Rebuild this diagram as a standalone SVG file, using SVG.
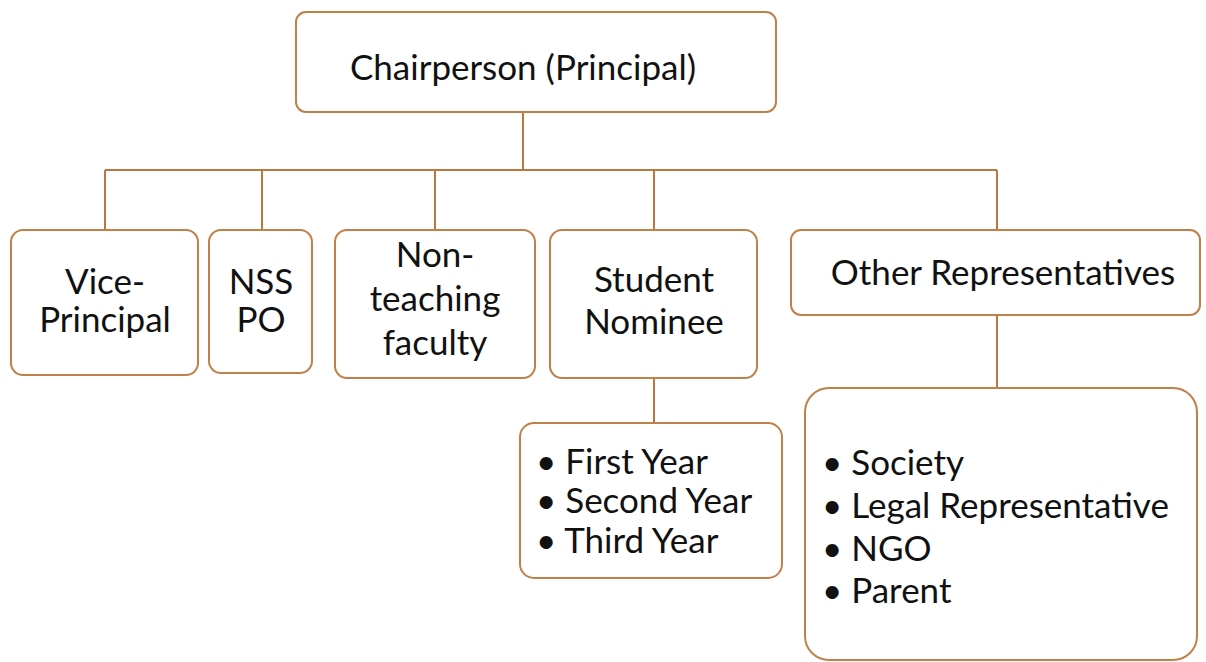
<svg xmlns="http://www.w3.org/2000/svg" width="1206" height="662" viewBox="0 0 1206 662">
<style>
.box{fill:#ffffff;stroke:#C0804A;stroke-width:2}
.ln{fill:none;stroke:#B87840;stroke-width:2}
.t{font-family:Lato,"Open Sans",sans-serif;font-size:35px;fill:#111111;text-anchor:middle}
.b{font-family:Lato,"Open Sans",sans-serif;font-size:35px;fill:#111111}
</style>
<rect width="1206" height="662" fill="#ffffff"/>
<g id="connectors">
<path class="ln" d="M523,112 V170 M105,170 H997 M105,170 V230 M262,170 V230 M435,170 V230 M654,170 V230 M997,170 V230 M997,315 V388 M654,378 V423"/>
</g>
<g id="chair"><rect class="box" x="296" y="12" width="480" height="100" rx="10"/><text class="t" x="523" y="80">Chairperson (Principal)</text></g>
<g id="vice"><rect class="box" x="11" y="230" width="187" height="145" rx="12"/><text class="t" x="105" y="294">Vice-</text><text class="t" x="105" y="332">Principal</text></g>
<g id="nss"><rect class="box" x="209" y="230" width="103" height="143" rx="12"/><text class="t" x="261" y="294">NSS</text><text class="t" x="261" y="332">PO</text></g>
<g id="nonteaching"><rect class="box" x="335" y="230" width="200" height="148" rx="12"/><text class="t" x="435" y="267">Non-</text><text class="t" x="435" y="311">teaching</text><text class="t" x="435" y="355">faculty</text></g>
<g id="student"><rect class="box" x="550" y="230" width="207" height="148" rx="12"/><text class="t" x="654" y="292">Student</text><text class="t" x="654" y="334">Nominee</text></g>
<g id="other"><rect class="box" x="791" y="230" width="409" height="85" rx="10"/><text class="t" x="1003" y="285">Other Representatives</text></g>
<g id="years"><rect class="box" x="520" y="423" width="262" height="155" rx="14"/>
<text class="b" x="536" y="474">• First Year</text><text class="b" x="536" y="513">• Second Year</text><text class="b" x="536" y="553">• Third Year</text></g>
<g id="others-list"><rect class="box" x="805" y="388" width="392" height="272" rx="24"/>
<text class="b" x="822" y="475">• Society</text><text class="b" x="822" y="518">• Legal Representative</text><text class="b" x="822" y="561">• NGO</text><text class="b" x="822" y="603">• Parent</text></g>
</svg>
